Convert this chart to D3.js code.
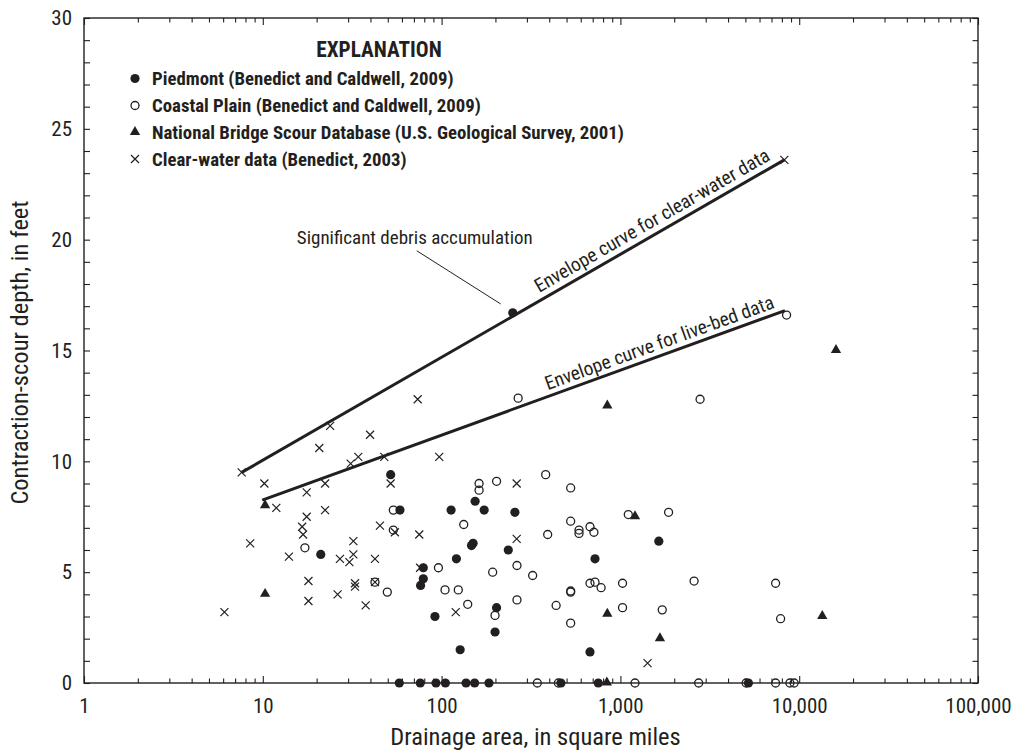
<!DOCTYPE html>
<html>
<head>
<meta charset="utf-8">
<script src="https://cdnjs.cloudflare.com/ajax/libs/d3/7.8.5/d3.min.js"></script>
<style>
  html, body { margin: 0; padding: 0; background: #fff; }
  svg { display: block; }
  text { font-family: 'Liberation Sans Narrow', 'Roboto Condensed', 'DejaVu Sans Condensed', 'Open Sans', sans-serif; fill: #231f20; }
</style>
</head>
<body>
<svg id="chart" width="1016" height="751"></svg>
<script>
// ---------------- DATA ----------------
const xTickValues = [1, 10, 100, 1000, 10000, 100000];
const xTickLabels = ["1", "10", "100", "1,000", "10,000", "100,000"];
const yTickValues = [0, 5, 10, 15, 20, 25, 30];
const yTickLabels = ["0", "5", "10", "15", "20", "25", "30"];

// Piedmont (Benedict and Caldwell, 2009): [drainage area, scour depth]
const piedmont = [
  [250, 16.7], [51.9, 9.4], [58.5, 7.8], [21.1, 5.8], [79, 5.2], [79, 4.7],
  [76.3, 4.4], [91.8, 3.0], [113, 7.8], [154, 8.2], [173, 7.8], [257, 7.7],
  [150, 6.3], [147, 6.2], [236, 6.0], [121, 5.6], [203, 3.4], [199, 2.3],
  [127, 1.5], [721, 5.6], [676, 1.4], [1640, 6.4],
  [58, 0], [76, 0], [93, 0], [105, 0], [137, 0], [153, 0], [184, 0],
  [465, 0], [752, 0], [5200, 0]
];

// Coastal Plain (Benedict and Caldwell, 2009)
const coastalPlain = [
  [8500, 16.6], [268, 12.85], [2790, 12.8], [162, 9.0], [162, 8.7], [203, 9.1],
  [382, 9.4], [527, 8.8], [133, 7.15], [527, 7.3], [587, 6.9], [587, 6.75],
  [676, 7.05], [711, 6.8], [392, 6.7], [1107, 7.6], [1860, 7.7], [53.7, 7.8],
  [53.7, 6.9], [17.2, 6.1], [42.4, 4.55], [49.7, 4.1], [96, 5.2], [193, 5.0],
  [264, 5.3], [323, 4.85], [104.5, 4.2], [124, 4.2], [140, 3.55], [199, 3.05],
  [264, 3.75], [437, 3.5], [527, 4.15], [527, 4.1], [527, 2.7], [676, 4.5],
  [721, 4.55], [780, 4.3], [1028, 4.5], [1028, 3.4], [1714, 3.3], [2583, 4.6],
  [7380, 4.5], [7870, 2.9],
  [343, 0], [450, 0], [1207, 0], [2740, 0], [5050, 0], [7380, 0], [8870, 0], [9370, 0]
];

// National Bridge Scour Database (U.S. Geological Survey, 2001)
const nbsd = [
  [10.3, 8.0], [10.3, 4.0], [845, 12.5], [1207, 7.5], [845, 3.1], [1664, 2.0],
  [840, 0], [16060, 15.0], [13460, 3.0]
];

// Clear-water data (Benedict, 2003)
const clearWater = [
  [6.1, 3.2], [7.62, 9.5], [8.5, 6.3], [10.2, 9.0], [11.9, 7.9], [14, 5.7],
  [16.6, 7.05], [16.8, 6.7], [17.6, 8.6], [17.6, 7.5], [18, 4.6], [18, 3.7],
  [20.7, 10.6], [22.3, 9.0], [22.3, 7.8], [23.8, 11.6], [26.2, 4.0], [27, 5.6],
  [30.5, 5.45], [31, 9.9], [32.1, 6.4], [32.1, 5.8], [32.8, 4.5], [32.8, 4.35],
  [34.2, 10.2], [37.6, 3.5], [39.8, 11.2], [42.4, 5.6], [42.4, 4.55], [45.2, 7.1],
  [47.8, 10.2], [51.9, 9.0], [54.8, 6.8], [73.5, 12.8], [75, 6.7], [75.8, 5.2],
  [97, 10.2], [120, 3.2], [263, 9.0], [263, 6.5], [1419, 0.9], [8260, 23.6]
];

// Envelope curves
const clearWaterEnvelope = [[7.62, 9.5], [8260, 23.6]];
const liveBedEnvelope = [[9.93, 8.25], [8320, 16.8]];

// Annotation leader (data units)
const debrisLeader = [[72.6, 19.5], [214, 17.1]];
const debrisLabelAt = [15.5, 19.8];

const legendLabels = [
  "Piedmont (Benedict and Caldwell, 2009)",
  "Coastal Plain (Benedict and Caldwell, 2009)",
  "National Bridge Scour Database (U.S. Geological Survey, 2001)",
  "Clear-water data (Benedict, 2003)"
];

// ---------------- LAYOUT ----------------
const ink = "#231f20";
const margin = { left: 84, top: 18, right: 38, bottom: 68 };
const W = 1016, H = 751;
const iw = W - margin.left - margin.right;   // 894
const ih = H - margin.top - margin.bottom;   // 665

const svg = d3.select("#chart");
const g = svg.append("g").attr("transform", `translate(${margin.left},${margin.top})`);

const x = d3.scaleLog().domain([1, 100000]).range([0, iw]);
const y = d3.scaleLinear().domain([0, 30]).range([ih, 0]);

// minor log ticks
const minorX = [];
for (let d = 1; d < 100000; d *= 10) for (let k = 2; k <= 9; k++) minorX.push(d * k);
const minorY = d3.range(0, 31, 1);

function styleAxis(sel) {
  sel.select(".domain").remove();
  sel.selectAll(".tick line").attr("stroke", ink).attr("stroke-width", 1.1);
}

// Bottom axis: major with labels
g.append("g").attr("transform", `translate(0,${ih})`)
  .call(d3.axisBottom(x).tickValues(xTickValues)
    .tickFormat((d, i) => xTickLabels[i]).tickSize(-7).tickSizeOuter(0).tickPadding(15))
  .call(styleAxis)
  .call(s => s.selectAll("text").attr("font-size", 21).attr("fill", ink));
g.append("g").attr("transform", `translate(0,${ih})`)
  .call(d3.axisBottom(x).tickValues(minorX).tickFormat("").tickSize(-4.5).tickSizeOuter(0))
  .call(styleAxis);
// Top axis
g.append("g")
  .call(d3.axisTop(x).tickValues(xTickValues).tickFormat("").tickSize(-7).tickSizeOuter(0))
  .call(styleAxis);
g.append("g")
  .call(d3.axisTop(x).tickValues(minorX).tickFormat("").tickSize(-4.5).tickSizeOuter(0))
  .call(styleAxis);
// Left axis
g.append("g")
  .call(d3.axisLeft(y).tickValues(minorY)
    .tickFormat(d => { const i = yTickValues.indexOf(d); return i >= 0 ? yTickLabels[i] : ""; })
    .tickSize(-6).tickSizeOuter(0).tickPadding(12))
  .call(styleAxis)
  .call(s => s.selectAll("text").attr("font-size", 21).attr("fill", ink));
// Right axis
g.append("g").attr("transform", `translate(${iw},0)`)
  .call(d3.axisRight(y).tickValues(minorY).tickFormat("").tickSize(-5.5).tickSizeOuter(0))
  .call(styleAxis);

// Frame
g.append("rect").attr("x", 0).attr("y", 0).attr("width", iw).attr("height", ih)
  .attr("fill", "none").attr("stroke", ink).attr("stroke-width", 1.4);

// Axis titles
svg.append("text").attr("x", margin.left + iw * 0.505).attr("y", 745)
  .attr("text-anchor", "middle").attr("font-size", 24.5).text("Drainage area, in square miles");
svg.append("text").attr("transform", `translate(28,${margin.top + ih / 2 + 2}) rotate(-90)`)
  .attr("text-anchor", "middle").attr("font-size", 24.5).text("Contraction-scour depth, in feet");

// ---------------- MARKS ----------------
const rC = 4.6;
const triPath = d3.symbol().type(d3.symbolTriangle).size(46);
const timesPath = "M-4,-4L4,4M-4,4L4,-4";

function drawFilled(sel, data) {
  sel.selectAll("circle.pf").data(data).join("circle").attr("class", "pf")
    .attr("cx", d => x(d[0])).attr("cy", d => y(d[1])).attr("r", rC).attr("fill", ink);
}
function drawOpen(sel, data) {
  sel.selectAll("circle.po").data(data).join("circle").attr("class", "po")
    .attr("cx", d => x(d[0])).attr("cy", d => y(d[1])).attr("r", rC - 0.6)
    .attr("fill", "none").attr("stroke", ink).attr("stroke-width", 1.3);
}
function drawTri(sel, data) {
  sel.selectAll("path.pt").data(data).join("path").attr("class", "pt")
    .attr("d", triPath).attr("transform", d => `translate(${x(d[0])},${y(d[1]) - 0.5})`).attr("fill", ink);
}
function drawTimes(sel, data) {
  sel.selectAll("path.px").data(data).join("path").attr("class", "px")
    .attr("d", timesPath).attr("transform", d => `translate(${x(d[0])},${y(d[1])})`)
    .attr("fill", "none").attr("stroke", ink).attr("stroke-width", 1.2);
}

const marks = g.append("g");
drawTimes(marks.append("g"), clearWater);
drawOpen(marks.append("g"), coastalPlain);
drawFilled(marks.append("g"), piedmont);
drawTri(marks.append("g"), nbsd);

// Envelope lines
const line = d3.line().x(d => x(d[0])).y(d => y(d[1]));
[clearWaterEnvelope, liveBedEnvelope].forEach(e => {
  g.append("path").attr("d", line(e)).attr("fill", "none").attr("stroke", ink).attr("stroke-width", 3);
});

// Line labels placed along each envelope
function lineLabel(env, text, alongFromEnd, offset) {
  const p0 = [x(env[0][0]), y(env[0][1])], p1 = [x(env[1][0]), y(env[1][1])];
  const dx = p1[0] - p0[0], dy = p1[1] - p0[1];
  const L = Math.hypot(dx, dy);
  const ux = dx / L, uy = dy / L;
  const nx = uy, ny = -ux; // normal pointing up-left
  const px = p1[0] - ux * alongFromEnd + nx * offset;
  const py = p1[1] - uy * alongFromEnd + ny * offset;
  const ang = Math.atan2(dy, dx) * 180 / Math.PI;
  g.append("text").attr("transform", `translate(${px},${py}) rotate(${ang})`)
    .attr("text-anchor", "end").attr("font-size", 19.3).text(text);
}
lineLabel(clearWaterEnvelope, "Envelope curve for clear-water data", 11, 7);
lineLabel(liveBedEnvelope, "Envelope curve for live-bed data", 8, 6);

// Debris annotation
g.append("path").attr("d", line(debrisLeader)).attr("fill", "none").attr("stroke", ink).attr("stroke-width", 1);
g.append("text").attr("x", x(debrisLabelAt[0])).attr("y", y(debrisLabelAt[1]))
  .attr("font-size", 19).text("Significant debris accumulation");

// ---------------- LEGEND ----------------
const leg = svg.append("g");
leg.append("text").attr("x", 379).attr("y", 56.5).attr("text-anchor", "middle")
  .attr("font-size", 21.3).attr("font-weight", "bold").text("EXPLANATION");
const rowY = [78.5, 105.5, 132.5, 159];
const mx = 135;
leg.append("circle").attr("cx", mx).attr("cy", rowY[0]).attr("r", rC).attr("fill", ink);
leg.append("circle").attr("cx", mx).attr("cy", rowY[1]).attr("r", rC - 0.6).attr("fill", "none").attr("stroke", ink).attr("stroke-width", 1.3);
leg.append("path").attr("d", triPath).attr("transform", `translate(${mx},${rowY[2] - 0.5})`).attr("fill", ink);
leg.append("path").attr("d", timesPath).attr("transform", `translate(${mx},${rowY[3]})`).attr("fill", "none").attr("stroke", ink).attr("stroke-width", 1.2);
legendLabels.forEach((t, i) => {
  leg.append("text").attr("x", 152).attr("y", rowY[i]).attr("dy", "0.36em")
    .attr("font-size", 18.8).attr("font-weight", "bold").text(t);
});
</script>
</body>
</html>
